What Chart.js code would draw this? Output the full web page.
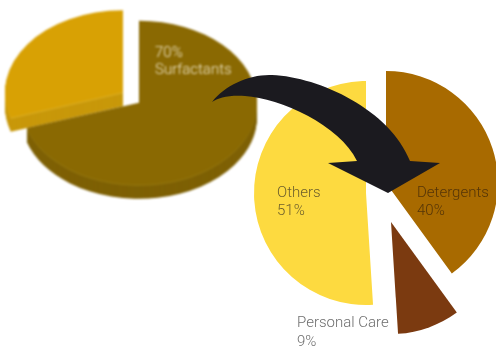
<!DOCTYPE html>
<html>
<head>
<meta charset="utf-8">
<script src="https://cdn.jsdelivr.net/npm/chart.js@4.4.1/dist/chart.umd.min.js"></script>
<style>
  html, body { margin: 0; padding: 0; background: #fff; }
  #wrap { position: relative; width: 496px; height: 347px; overflow: hidden; }
  #wrap canvas { position: absolute; }
  #sourcePie { left: 0; top: -30px; filter: blur(0.8px); }
  #usePie { left: 240px; top: 55px; }
  #arrow { left: 0; top: 0; pointer-events: none; }
</style>
</head>
<body>
<div id="wrap">
  <canvas id="sourcePie" width="270" height="270"></canvas>
  <canvas id="usePie" width="256" height="292"></canvas>
  <canvas id="arrow" width="496" height="347"></canvas>
</div>
<script>
// Raw material split and where the surfactants end up
const sourceLabels = ['Surfactants', 'Others'];
const sourceValues = [70, 30];
const useLabels = ['Detergents', 'Personal Care', 'Others'];
const useValues = [40, 9, 51];

const FONT = '300 15px Roboto, "Liberation Sans", Arial, sans-serif';

// Pull individual slices away from the centre by a fixed pixel amount
function sliceShift(shifts) {
    return {
        id: 'sliceShift',
        afterDatasetsUpdate(chart) {
            chart.getDatasetMeta(0).data.forEach((arc, i) => {
                const s = shifts[i];
                if (s) {
                    arc.x += s[0];
                    arc.y += s[1];
                }
            });
        }
    };
}

// Squash the pie into an ellipse and extrude it downwards
function tilt3d(k, depth, sideColors) {
    return {
        id: 'tilt3d',
        beforeDatasetsDraw(chart) {
            const ctx = chart.ctx;
            const area = chart.chartArea;
            const cx = (area.left + area.right) / 2;
            const cy = (area.top + area.bottom) / 2;
            const arcs = chart.getDatasetMeta(0).data;
            ctx.save();
            ctx.translate(cx, cy);
            ctx.scale(1, k);
            ctx.translate(-cx, -cy);
            for (let d = depth; d > 0; d--) {
                ctx.save();
                ctx.translate(0, d / k);
                arcs.forEach((arc, i) => {
                    const orig = arc.options;
                    const side = d === 1 ? sideColors[i][1] : sideColors[i][0];
                    arc.options = Object.assign({}, orig, { backgroundColor: side, borderWidth: 0 });
                    arc.draw(ctx);
                    arc.options = orig;
                });
                ctx.restore();
            }
        },
        afterDatasetsDraw(chart) {
            chart.ctx.restore();
        }
    };
}

// Two-line text labels at fixed spots on the canvas
function sliceLabels(items) {
    return {
        id: 'sliceLabels',
        afterDraw(chart) {
            const ctx = chart.ctx;
            ctx.save();
            ctx.font = FONT;
            ctx.textAlign = 'left';
            ctx.textBaseline = 'alphabetic';
            items.forEach(it => {
                ctx.fillStyle = it.color;
                it.lines.forEach((t, j) => ctx.fillText(t, it.x, it.y + j * it.lineHeight));
            });
            ctx.restore();
        }
    };
}

const baseOptions = {
    responsive: false,
    animation: false,
    events: [],
    plugins: {
        legend: { display: false },
        tooltip: { enabled: false }
    }
};

// Left: tilted 3D pie of the raw materials
new Chart(document.getElementById('sourcePie'), {
    type: 'pie',
    data: {
        labels: sourceLabels,
        datasets: [{
            data: sourceValues,
            backgroundColor: ['#8a6902', '#d8a104'],
            borderWidth: 0,
            clip: false
        }]
    },
    options: Object.assign({}, baseOptions, {
        layout: { padding: { left: 15, right: 19, top: 12, bottom: 22 } }
    }),
    plugins: [
        sliceShift([[6, 4], [-10, -11]]),
        tilt3d(0.695, 14, [['#7e6004', '#957810'], ['#c8980a', '#dcb028']]),
        sliceLabels([{
            x: 155, y: 87, lineHeight: 17, color: '#f1e8cc',
            lines: [sourceValues[0] + '%', sourceLabels[0]]
        }])
    ]
});

// Right: what the surfactants are used for
new Chart(document.getElementById('usePie'), {
    type: 'pie',
    data: {
        labels: useLabels,
        datasets: [{
            data: useValues,
            backgroundColor: ['#a86a00', '#7b3a10', '#fdda40'],
            borderWidth: 0,
            clip: false
        }]
    },
    options: Object.assign({}, baseOptions, {
        layout: { padding: { left: 24, right: 8, top: 28, bottom: 40 } }
    }),
    plugins: [
        sliceShift([[10, -12], [15, 27], [-10, -2]]),
        sliceLabels([
            { x: 177, y: 142, lineHeight: 18, color: '#553507', lines: [useLabels[0], useValues[0] + '%'] },
            { x: 57, y: 272, lineHeight: 19, color: '#6e6e6e', lines: [useLabels[1], useValues[1] + '%'] },
            { x: 37, y: 142, lineHeight: 18, color: '#6d5f2c', lines: [useLabels[2], useValues[2] + '%'] }
        ])
    ]
});

// Curved arrow linking the two pies
const actx = document.getElementById('arrow').getContext('2d');
actx.fillStyle = '#1b1a1f';
actx.beginPath();
actx.moveTo(212, 102);
actx.bezierCurveTo(225, 85, 250, 74, 272, 75);
actx.bezierCurveTo(320, 77, 390, 110, 410, 161);
actx.lineTo(440, 163);
actx.lineTo(388, 193);
actx.lineTo(328, 163);
actx.lineTo(357, 161);
actx.bezierCurveTo(340, 125, 280, 98, 245, 96);
actx.bezierCurveTo(228, 95, 218, 98, 212, 102);
actx.closePath();
actx.fill();
</script>
</body>
</html>
